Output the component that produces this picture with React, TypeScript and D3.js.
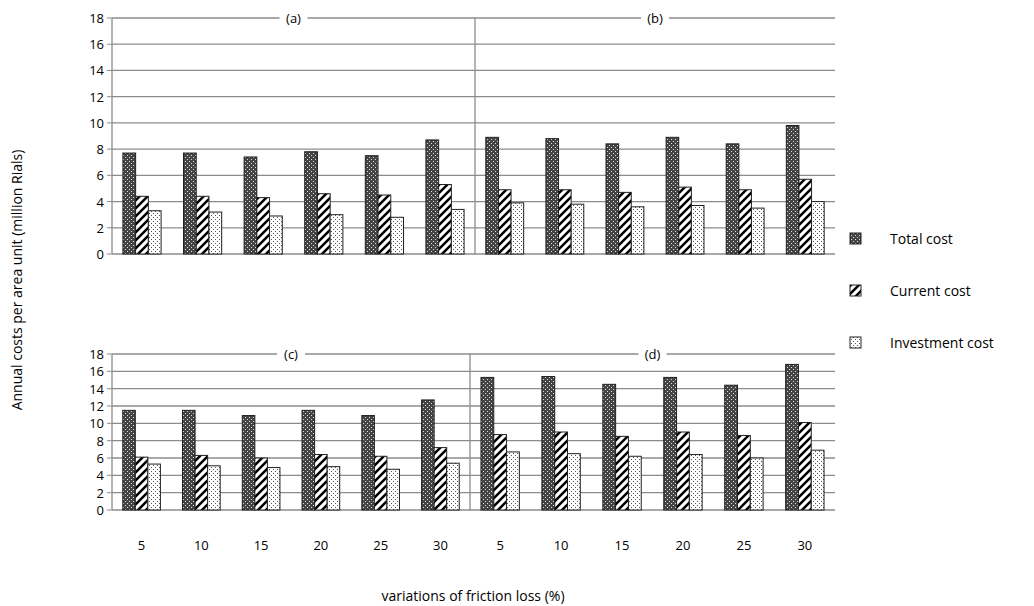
import React, { useEffect, useRef } from "react";
import * as d3 from "d3";

const categories = ["5", "10", "15", "20", "25", "30"];
const seriesNames = ["Total cost", "Current cost", "Investment cost"];
const panelA = [[7.7, 7.7, 7.4, 7.8, 7.5, 8.7], [4.4, 4.4, 4.3, 4.6, 4.5, 5.3], [3.3, 3.2, 2.9, 3.0, 2.8, 3.4]];
const panelB = [[8.9, 8.8, 8.4, 8.9, 8.4, 9.8], [4.9, 4.9, 4.7, 5.1, 4.9, 5.7], [3.9, 3.8, 3.6, 3.7, 3.5, 4.0]];
const panelC = [[11.5, 11.5, 10.9, 11.5, 10.9, 12.7], [6.1, 6.3, 6.0, 6.4, 6.2, 7.2], [5.3, 5.1, 4.9, 5.0, 4.7, 5.4]];
const panelD = [[15.3, 15.4, 14.5, 15.3, 14.4, 16.8], [8.7, 9.0, 8.5, 9.0, 8.6, 10.1], [6.7, 6.5, 6.2, 6.4, 6.0, 6.9]];
const yTicks = d3.range(0, 19, 2);

const App = () => {
  const ref = useRef<SVGSVGElement | null>(null);

  useEffect(() => {
    const svg = d3.select(ref.current);
    svg.selectAll("*").remove();
    const font = "'Open Sans', sans-serif";

    const defs = svg.append("defs");
    const p1 = defs.append("pattern").attr("id", "pTotal").attr("width", 4).attr("height", 4).attr("patternUnits", "userSpaceOnUse");
    p1.append("rect").attr("width", 4).attr("height", 4).attr("fill", "#444");
    p1.append("rect").attr("x", 1).attr("y", 1).attr("width", 1).attr("height", 1).attr("fill", "#ddd");
    p1.append("rect").attr("x", 3).attr("y", 3).attr("width", 1).attr("height", 1).attr("fill", "#ddd");
    const p2 = defs.append("pattern").attr("id", "pCur").attr("width", 8).attr("height", 8).attr("patternUnits", "userSpaceOnUse");
    p2.append("rect").attr("width", 8).attr("height", 8).attr("fill", "#fff");
    p2.append("path").attr("d", "M-2,10 L10,-2 M-2,2 L2,-2 M6,10 L10,6").attr("stroke", "#000").attr("stroke-width", 2.5);
    const p3 = defs.append("pattern").attr("id", "pInv").attr("width", 4).attr("height", 4).attr("patternUnits", "userSpaceOnUse");
    p3.append("rect").attr("width", 4).attr("height", 4).attr("fill", "#fff");
    p3.append("rect").attr("x", 1).attr("y", 1).attr("width", 1).attr("height", 1).attr("fill", "#555");
    p3.append("rect").attr("x", 3).attr("y", 3).attr("width", 1).attr("height", 1).attr("fill", "#555");
    const fills = ["url(#pTotal)", "url(#pCur)", "url(#pInv)"];

    const panels = [
      { data: panelA, title: "(a)", x0: 112, x1: 475, y0: 18, y1: 254, ticks: true, xl: false },
      { data: panelB, title: "(b)", x0: 475, x1: 835, y0: 18, y1: 254, ticks: false, xl: false },
      { data: panelC, title: "(c)", x0: 112, x1: 470, y0: 354, y1: 510, ticks: true, xl: true },
      { data: panelD, title: "(d)", x0: 470, x1: 835, y0: 354, y1: 510, ticks: false, xl: true },
    ];

    panels.forEach((p) => {
      const g = svg.append("g");
      const y = d3.scaleLinear().domain([0, 18]).range([p.y1, p.y0]);
      const x = d3.scaleBand().domain(categories).range([p.x0, p.x1]).paddingInner(0.37).paddingOuter(0.18);
      const xs = d3.scaleBand().domain(["0", "1", "2"]).range([0, x.bandwidth()]);

      g.selectAll("line.grid").data(yTicks).join("line")
        .attr("x1", p.x0).attr("x2", p.x1).attr("y1", (d) => y(d)).attr("y2", (d) => y(d))
        .attr("stroke", "#8c8c8c").attr("stroke-width", 1.3);
      g.append("line").attr("x1", p.x0).attr("x2", p.x0).attr("y1", p.y0).attr("y2", p.y1).attr("stroke", "#8c8c8c").attr("stroke-width", 1.3);
      if (p.ticks) {
        g.selectAll("line.tk").data(yTicks).join("line")
          .attr("x1", p.x0 - 5).attr("x2", p.x0).attr("y1", (d) => y(d)).attr("y2", (d) => y(d)).attr("stroke", "#8c8c8c");
        g.selectAll("text.tl").data(yTicks).join("text")
          .attr("x", p.x0 - 8).attr("y", (d) => y(d) + 5).attr("text-anchor", "end")
          .attr("font-family", font).attr("font-size", 13).text((d) => d);
      }
      p.data.forEach((vals, si) => {
        g.selectAll(`rect.s${si}`).data(vals).join("rect")
          .attr("x", (_, i) => (x(categories[i]) as number) + (xs(String(si)) as number))
          .attr("y", (d) => y(d)).attr("width", xs.bandwidth()).attr("height", (d) => p.y1 - y(d))
          .attr("fill", fills[si]).attr("stroke", "#222").attr("stroke-width", 1);
      });
      if (p.xl) {
        g.selectAll("text.xl").data(categories).join("text")
          .attr("x", (d) => (x(d) as number) + x.bandwidth() / 2).attr("y", 550).attr("text-anchor", "middle")
          .attr("font-family", font).attr("font-size", 13).text((d) => d);
      }
      const cx = (p.x0 + p.x1) / 2;
      g.append("rect").attr("x", cx - 14).attr("y", p.y0 - 9).attr("width", 28).attr("height", 18).attr("fill", "#fff");
      g.append("text").attr("x", cx).attr("y", p.y0 + 5).attr("text-anchor", "middle")
        .attr("font-family", font).attr("font-size", 13).text(p.title);
    });

    const lg = svg.append("g");
    seriesNames.forEach((n, i) => {
      const yy = 239 + i * 52;
      lg.append("rect").attr("x", 850).attr("y", yy - 6).attr("width", 11).attr("height", 11)
        .attr("fill", fills[i]).attr("stroke", "#222");
      lg.append("text").attr("x", 890).attr("y", yy + 5).attr("font-family", font).attr("font-size", 14).text(n);
    });

    svg.append("text").attr("transform", "translate(22,280) rotate(-90)").attr("text-anchor", "middle")
      .attr("font-family", font).attr("font-size", 14).text("Annual costs per area unit (million Rials)");
    svg.append("text").attr("x", 473).attr("y", 601).attr("text-anchor", "middle")
      .attr("font-family", font).attr("font-size", 14).text("variations of friction loss (%)");
  }, []);

  return <svg ref={ref} width={1034} height={606} style={{ position: "absolute", left: 0, top: 0, background: "#fff" }} />;
};

export default App;
